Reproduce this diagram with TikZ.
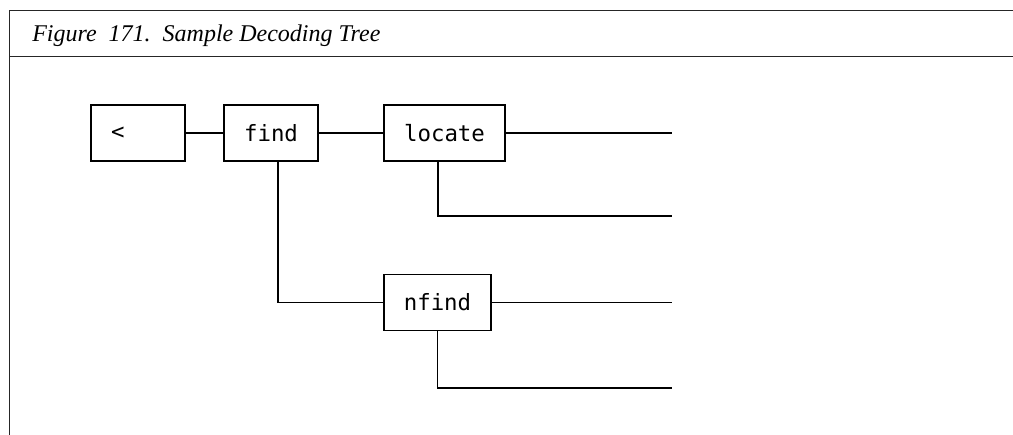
\documentclass[tikz,border=0pt]{standalone}
\usepackage{fontspec}
\setmainfont{Liberation Serif}
\newfontfamily\boxfont{DejaVu Sans Mono}
\usetikzlibrary{calc}
\begin{document}
\begin{tikzpicture}[x=0.75pt,y=-0.75pt,
  rule/.style={line width=1.2pt, draw=black!85},
  box/.style={draw, line width=1.1pt, minimum height=42pt, inner sep=0pt,
    font=\boxfont\fontsize{16.8pt}{19pt}\selectfont},
  wire/.style={line width=1.1pt}]
\useasboundingbox (0,0) rectangle (1013,435);

% figure frame and caption
\coordinate (tl) at (9.5,10.5);
\coordinate (tr) at (1013,10.5);
\coordinate (ml) at (9.5,56.5);
\coordinate (mr) at (1013,56.5);
\coordinate (bl) at (9.5,435);
\draw[rule] (tr) -- (tl) -- (bl);
\draw[rule] (ml) -- (mr);
\node[anchor=base west, inner sep=0pt, font=\itshape\fontsize{18pt}{21pt}\selectfont]
  (cap) at (32,42) {Figure\ \ 171.\ \ Sample Decoding Tree};

% decoding tree nodes
\node[box, minimum width=70.5pt]  (lt)     at (138,133)   {<\phantom{xxx}};
\node[box, minimum width=70.5pt]  (find)   at (271,133)   {find};
\node[box, minimum width=90.75pt] (locate) at (444.5,133) {locate};
\node[box, minimum width=80.25pt] (nfind)  at (437.5,302.5) {nfind};

% open ends of the branches
\coordinate (e1) at (672,133);
\coordinate (e2) at (672,216);
\coordinate (e3) at (672,302.5);
\coordinate (e4) at (672,388);

% connectors
\draw[wire] (lt.east) -- (find.west);
\draw[wire] (find.east) -- (locate.west);
\draw[wire] (locate.east) -- (e1);
\draw[wire] ([xshift=-4.9pt]locate.south) |- (e2);
\draw[wire] ([xshift=5.25pt]find.south) |- (nfind.west);
\draw[wire] (nfind.east) -- (e3);
\draw[wire] (nfind.south) |- (e4);
\end{tikzpicture}
\end{document}
